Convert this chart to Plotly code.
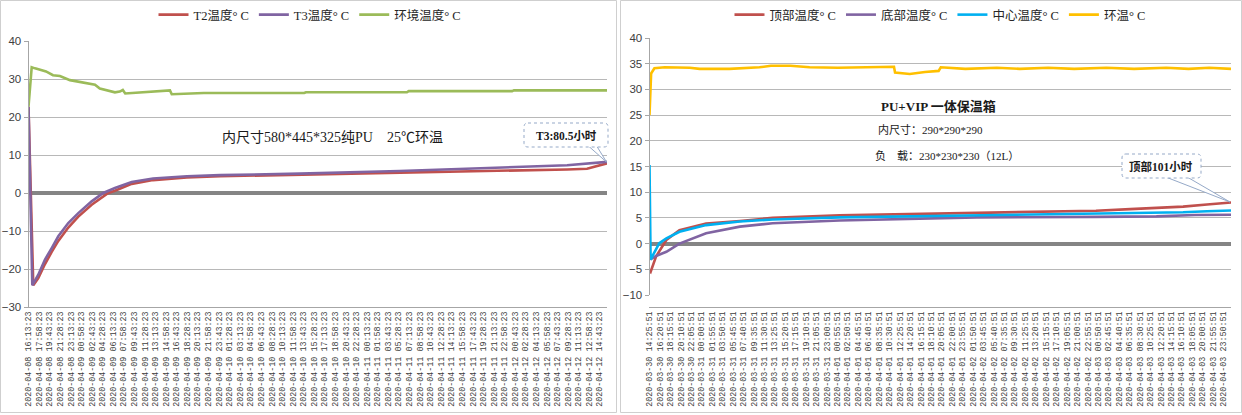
import pandas as pd
import plotly.graph_objects as go

W, H = 1242, 415

# ---------------- left chart data ----------------
LEFT_START = "2020-04-08 16:13:23"
LEFT_TICKS = [
    "2020-04-08 16:13:23", "2020-04-08 17:58:23", "2020-04-08 19:43:23", "2020-04-08 21:28:23", "2020-04-08 23:13:23",
    "2020-04-09 00:58:23", "2020-04-09 02:43:23", "2020-04-09 04:28:23", "2020-04-09 06:13:23", "2020-04-09 07:58:23",
    "2020-04-09 09:43:23", "2020-04-09 11:28:23", "2020-04-09 13:13:23", "2020-04-09 14:58:23", "2020-04-09 16:43:23",
    "2020-04-09 18:28:23", "2020-04-09 20:13:23", "2020-04-09 21:58:23", "2020-04-09 23:43:23",
    "2020-04-10 01:28:23", "2020-04-10 03:13:23", "2020-04-10 04:58:23", "2020-04-10 06:43:23", "2020-04-10 08:28:23",
    "2020-04-10 10:13:23", "2020-04-10 11:58:23", "2020-04-10 13:43:23", "2020-04-10 15:28:23", "2020-04-10 17:13:23",
    "2020-04-10 18:58:23", "2020-04-10 20:43:23", "2020-04-10 22:28:23",
    "2020-04-11 00:13:23", "2020-04-11 01:58:23", "2020-04-11 03:43:23", "2020-04-11 05:28:23", "2020-04-11 07:13:23",
    "2020-04-11 08:58:23", "2020-04-11 10:43:23", "2020-04-11 12:28:23", "2020-04-11 14:13:23", "2020-04-11 15:58:23",
    "2020-04-11 17:43:23", "2020-04-11 19:28:23", "2020-04-11 21:13:23", "2020-04-11 22:58:23",
    "2020-04-12 00:43:23", "2020-04-12 02:28:23", "2020-04-12 04:13:23", "2020-04-12 05:58:23", "2020-04-12 07:43:23",
    "2020-04-12 09:28:23", "2020-04-12 11:13:23", "2020-04-12 12:58:23", "2020-04-12 14:43:23",
]
# elapsed hours since LEFT_START
T2_HOURS = [0, 0.79, 1.62, 2.73, 3.84, 4.93, 6.58, 8.24, 10.45, 13.2, 14.3, 17.07, 20.6, 26.2,
            31.7, 44.9, 61.4, 78.0, 89.1, 92.4, 95.7]
T2_VALUES = [22.7, -24.3, -22.4, -18.7, -15.5, -12.6, -9.1, -6.2, -3.1, 0.0, 0.6, 2.4, 3.4, 4.1,
             4.4, 4.8, 5.2, 5.8, 6.2, 6.4, 7.8]
T3_HOURS = [0, 0.63, 1.62, 2.73, 3.84, 4.93, 6.58, 8.24, 10.45, 12.37, 14.3, 17.07, 20.6, 26.2,
            31.7, 44.9, 61.4, 70.0, 78.0, 84.0, 89.1, 95.7]
T3_VALUES = [22.7, -24.3, -21.5, -17.5, -14.5, -11.4, -7.9, -5.3, -2.2, 0.0, 1.3, 2.9, 3.8, 4.4,
             4.7, 5.1, 5.8, 6.3, 6.8, 7.1, 7.3, 8.2]
ENV_HOURS = [0, 0.53, 1.08, 1.9, 2.9, 4.05, 5.2, 6.86, 8.5, 9.7, 11.0, 11.8, 13.1, 14.3, 15.1,
             15.6, 16.0, 17.9, 20.1, 23.1, 23.4, 23.7, 28.5, 29.0, 45.6, 45.9, 62.6, 62.9, 80.0,
             80.3, 95.7]
ENV_VALUES = [22.7, 33.1, 32.8, 32.4, 32.0, 31.0, 30.8, 29.7, 29.2, 28.9, 28.5, 27.5, 27.0, 26.5,
              26.7, 27.1, 26.2, 26.4, 26.6, 26.9, 27.0, 26.0, 26.1, 26.3, 26.3, 26.5, 26.5, 26.8,
              26.8, 27.0, 27.0]

# ---------------- right chart data ----------------
RIGHT_START = "2020-03-30 14:25:51"
RIGHT_TICKS = [
    "2020-03-30 14:25:51", "2020-03-30 16:20:51", "2020-03-30 18:15:51", "2020-03-30 20:10:51", "2020-03-30 22:05:51",
    "2020-03-31 00:00:51", "2020-03-31 01:55:51", "2020-03-31 03:50:51", "2020-03-31 05:45:51", "2020-03-31 07:40:51",
    "2020-03-31 09:35:51", "2020-03-31 11:30:51", "2020-03-31 13:25:51", "2020-03-31 15:20:51", "2020-03-31 17:15:51",
    "2020-03-31 19:10:51", "2020-03-31 21:05:51", "2020-03-31 23:00:51",
    "2020-04-01 00:55:51", "2020-04-01 02:50:51", "2020-04-01 04:45:51", "2020-04-01 06:40:51", "2020-04-01 08:35:51",
    "2020-04-01 10:30:51", "2020-04-01 12:25:51", "2020-04-01 14:20:51", "2020-04-01 16:15:51", "2020-04-01 18:10:51",
    "2020-04-01 20:05:51", "2020-04-01 22:00:51", "2020-04-01 23:55:51",
    "2020-04-02 01:50:51", "2020-04-02 03:45:51", "2020-04-02 05:40:51", "2020-04-02 07:35:51", "2020-04-02 09:30:51",
    "2020-04-02 11:25:51", "2020-04-02 13:20:51", "2020-04-02 15:15:51", "2020-04-02 17:10:51", "2020-04-02 19:05:51",
    "2020-04-02 21:00:51", "2020-04-02 22:55:51",
    "2020-04-03 00:50:51", "2020-04-03 02:45:51", "2020-04-03 04:40:51", "2020-04-03 06:35:51", "2020-04-03 08:30:51",
    "2020-04-03 10:25:51", "2020-04-03 12:20:51", "2020-04-03 14:15:51", "2020-04-03 16:10:51", "2020-04-03 18:05:51",
    "2020-04-03 20:00:51", "2020-04-03 21:55:51", "2020-04-03 23:50:51",
]
TOP_HOURS = [0, 0.2, 1.2, 3.1, 5.5, 10.4, 16.6, 22.6, 34.9, 60.1, 69.9, 82.0, 88.3, 93.1, 98.0, 102.4, 106.8]
TOP_VALUES = [-5.3, -5.5, -2.5, 0.7, 2.6, 3.9, 4.4, 5.0, 5.5, 6.0, 6.2, 6.4, 6.7, 6.9, 7.2, 7.6, 8.0]
BOTTOM_HOURS = [0, 0.3, 1.2, 3.1, 5.5, 10.4, 16.6, 22.6, 34.9, 60.1, 82.0, 93.1, 100.2, 106.8]
BOTTOM_VALUES = [-2.8, -3.0, -2.4, -1.6, 0.0, 2.0, 3.3, 3.95, 4.5, 5.1, 5.2, 5.3, 5.55, 5.6]
CENTER_HOURS = [0, 0.2, 1.8, 3.1, 5.5, 10.4, 16.6, 22.6, 34.9, 60.1, 82.0, 93.1, 98.0, 102.4, 106.8]
CENTER_VALUES = [15.3, -3.1, 0.1, 1.0, 2.3, 3.6, 4.3, 4.7, 5.1, 5.5, 5.75, 5.9, 6.1, 6.3, 6.45]
AMB_HOURS = [0, 0.3, 0.9, 2.8, 7.4, 9.2, 14.7, 20.2, 22.3, 25.9, 29.4, 34.6, 44.9, 45.1, 47.8,
             50.6, 53.1, 53.5, 58.0, 63.8, 68.0, 73.2, 78.0, 83.9, 89.0, 94.9, 99.0, 102.8, 106.8]
AMB_VALUES = [25.0, 33.1, 34.1, 34.3, 34.2, 34.0, 34.0, 34.3, 34.6, 34.6, 34.3, 34.2, 34.4, 33.3, 33.0,
              33.4, 33.6, 34.3, 34.0, 34.2, 34.0, 34.2, 34.0, 34.2, 34.0, 34.2, 34.0, 34.2, 34.0]

RED, PURPLE, GREEN, BLUE, YELLOW = "#C0504D", "#8064A2", "#9BBB59", "#00B0F0", "#FFC000"


def times(start, hours):
    return pd.Timestamp(start) + pd.to_timedelta(hours, unit="h")


def px(x):
    return x / W


def py(y):
    return 1 - y / H


fig = go.Figure()
LW = 2.6
left_series = [
    ("T2温度° C", T2_HOURS, T2_VALUES, RED),
    ("T3温度° C", T3_HOURS, T3_VALUES, PURPLE),
    ("环境温度° C", ENV_HOURS, ENV_VALUES, GREEN),
]
for name, hrs, vals, col in left_series:
    fig.add_trace(go.Scatter(x=times(LEFT_START, hrs), y=vals, name=name, mode="lines",
                             line=dict(color=col, width=LW), xaxis="x", yaxis="y", legend="legend"))
right_series = [
    ("顶部温度° C", TOP_HOURS, TOP_VALUES, RED),
    ("底部温度° C", BOTTOM_HOURS, BOTTOM_VALUES, PURPLE),
    ("中心温度° C", CENTER_HOURS, CENTER_VALUES, BLUE),
    ("环温° C", AMB_HOURS, AMB_VALUES, YELLOW),
]
for name, hrs, vals, col in right_series:
    fig.add_trace(go.Scatter(x=times(RIGHT_START, hrs), y=vals, name=name, mode="lines",
                             line=dict(color=col, width=LW), xaxis="x2", yaxis="y2", legend="legend2"))

left_end = times(LEFT_START, [max(T2_HOURS + T3_HOURS + ENV_HOURS)])[0]
right_end = times(RIGHT_START, [max(TOP_HOURS + BOTTOM_HOURS + CENTER_HOURS + AMB_HOURS)])[0]

TICKFONT_X = dict(family="Liberation Mono, DejaVu Sans Mono", size=8.4, color="#404040")
TICKFONT_Y = dict(family="Liberation Sans, Arial", size=11.5, color="#404040")
GRID = "#B8B8B8"
AXIS = "#A6A6A6"


def xaxis_cfg(domain, ticks, rng):
    return dict(domain=domain, type="date", range=rng, tickmode="array", tickvals=ticks, ticktext=ticks,
                tickangle=-90, tickfont=TICKFONT_X, showgrid=False, zeroline=False, showline=True,
                linecolor=AXIS, linewidth=1, ticks="", automargin=False, fixedrange=True)


def yaxis_cfg(domain, anchor, rng, dtick):
    return dict(domain=domain, anchor=anchor, range=rng, dtick=dtick, tickfont=TICKFONT_Y,
                showgrid=True, gridcolor=GRID, gridwidth=1, zeroline=True, zerolinecolor="#858585",
                zerolinewidth=4, showline=True, linecolor=AXIS, linewidth=1, ticks="outside",
                ticklen=4, tickcolor=AXIS, automargin=False, fixedrange=True)


fig.update_layout(
    template="none",
    width=W, height=H, autosize=False,
    margin=dict(l=0, r=0, t=0, b=0),
    paper_bgcolor="white", plot_bgcolor="white",
    font=dict(family="Noto Sans CJK SC", color="#404040"),
    xaxis=xaxis_cfg([px(28.5), px(607)], LEFT_TICKS, [LEFT_START, left_end]),
    yaxis=yaxis_cfg([py(307), py(41)], "x", [-30, 40], 10),
    xaxis2=xaxis_cfg([px(649.5), px(1231)], RIGHT_TICKS, [RIGHT_START, right_end]),
    yaxis2=yaxis_cfg([py(295), py(38)], "x2", [-10, 40], 5),
    legend=dict(orientation="h", x=px(310), y=py(15), xanchor="center", yanchor="middle",
                font=dict(family="Liberation Serif, Noto Sans CJK SC", size=12.5, color="#262626"),
                itemwidth=30, bgcolor="rgba(0,0,0,0)"),
    legend2=dict(orientation="h", x=px(940), y=py(15), xanchor="center", yanchor="middle",
                 font=dict(family="Liberation Serif, Noto Sans CJK SC", size=12.5, color="#262626"),
                 itemwidth=30, bgcolor="rgba(0,0,0,0)"),
    showlegend=True,
)

ANN_FONT = "Liberation Serif, Noto Sans CJK SC"
annotations = [
    dict(text="内尺寸580*445*325纯PU　25℃环温", x=px(332), y=py(137), size=14),
    dict(text="<b>PU+VIP 一体保温箱</b>", x=px(938), y=py(107), size=13),
    dict(text="内尺寸：290*290*290", x=px(930), y=py(129), size=11),
    dict(text="负　载：230*230*230（12L）", x=px(947), y=py(155), size=11),
    dict(text="<b>T3:80.5小时</b>", x=px(566), y=py(135), size=11.5),
    dict(text="<b>顶部101小时</b>", x=px(1161), y=py(166), size=11.5),
]
for a in annotations:
    fig.add_annotation(text=a["text"], x=a["x"], y=a["y"], xref="paper", yref="paper",
                       xanchor="center", yanchor="middle", showarrow=False,
                       font=dict(family=ANN_FONT, size=a["size"], color="#1A1A1A"))


def rrect(x0, y0, x1, y1, r):
    return (f"M{px(x0 + r)},{py(y0)} L{px(x1 - r)},{py(y0)} Q{px(x1)},{py(y0)} {px(x1)},{py(y0 + r)} "
            f"L{px(x1)},{py(y1 - r)} Q{px(x1)},{py(y1)} {px(x1 - r)},{py(y1)} "
            f"L{px(x0 + r)},{py(y1)} Q{px(x0)},{py(y1)} {px(x0)},{py(y1 - r)} "
            f"L{px(x0)},{py(y0 + r)} Q{px(x0)},{py(y0)} {px(x0 + r)},{py(y0)} Z")


CALLOUT = "#95A9C8"
shapes = [
    # panel borders
    dict(type="rect", xref="paper", yref="paper", x0=px(0.5), x1=px(616.5), y0=py(412.5), y1=py(0.5),
         line=dict(color="#CFCFCF", width=1), layer="below"),
    dict(type="rect", xref="paper", yref="paper", x0=px(620.5), x1=px(1241.5), y0=py(412.5), y1=py(0.5),
         line=dict(color="#CFCFCF", width=1), layer="below"),
    # left callout
    dict(type="path", xref="paper", yref="paper",
         path=f"M{px(589)},{py(146.5)} L{px(606.5)},{py(162)} L{px(597)},{py(146.5)} Z",
         line=dict(color=CALLOUT, width=1), fillcolor="white"),
    dict(type="path", xref="paper", yref="paper", path=rrect(524, 123, 608, 147, 4),
         line=dict(color=CALLOUT, width=1, dash="dot"), fillcolor="white"),
    # right callout
    dict(type="path", xref="paper", yref="paper",
         path=f"M{px(1167)},{py(177.5)} L{px(1230)},{py(202)} L{px(1188)},{py(177.5)} Z",
         line=dict(color=CALLOUT, width=1), fillcolor="white"),
    dict(type="path", xref="paper", yref="paper", path=rrect(1122, 154, 1201, 178, 4),
         line=dict(color=CALLOUT, width=1, dash="dot"), fillcolor="white"),
]
for s in shapes:
    fig.add_shape(**s)

fig.write_html("out.html", config={"displayModeBar": False},
               post_script="document.body.style.margin='0';document.body.style.overflow='hidden';")
